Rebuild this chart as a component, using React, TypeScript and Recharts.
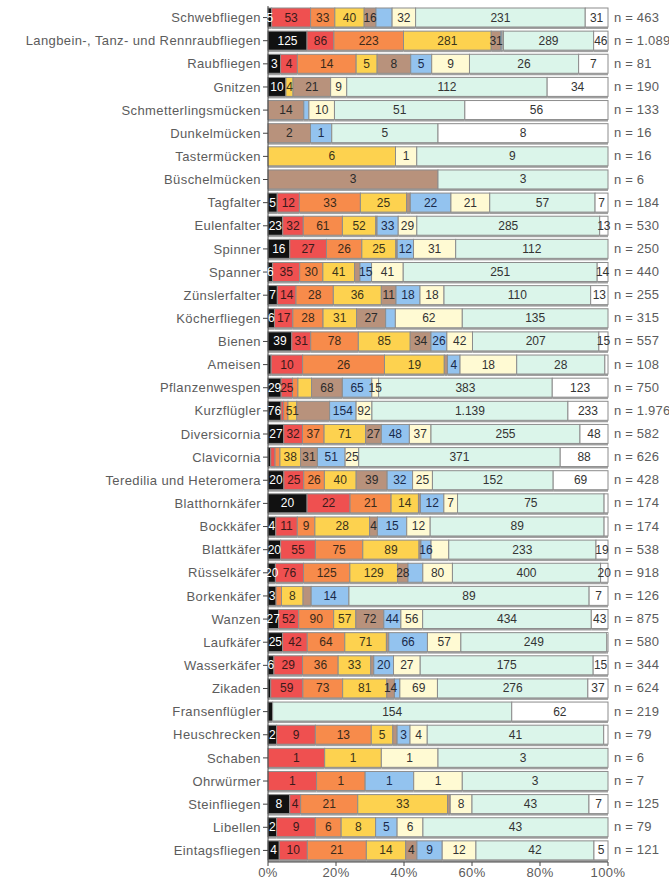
import React from "react";
import { BarChart, Bar, XAxis, YAxis, LabelList } from "recharts";

const categories = [
  "Schwebfliegen", "Langbein-, Tanz- und Rennraubfliegen", "Raubfliegen", "Gnitzen",
  "Schmetterlingsmücken", "Dunkelmücken", "Tastermücken", "Büschelmücken", "Tagfalter",
  "Eulenfalter", "Spinner", "Spanner", "Zünslerfalter", "Köcherfliegen", "Bienen", "Ameisen",
  "Pflanzenwespen", "Kurzflügler", "Diversicornia", "Clavicornia", "Teredilia und Heteromera",
  "Blatthornkäfer", "Bockkäfer", "Blattkäfer", "Rüsselkäfer", "Borkenkäfer", "Wanzen",
  "Laufkäfer", "Wasserkäfer", "Zikaden", "Fransenflügler", "Heuschrecken", "Schaben",
  "Ohrwürmer", "Steinfliegen", "Libellen", "Eintagsfliegen",
];

const totals = [463, 1089, 81, 190, 133, 16, 16, 6, 184, 530, 250, 440, 255, 315, 557, 108, 750, 1976, 582, 626, 428, 174, 174, 538, 918, 126, 875, 580, 344, 624, 219, 79, 6, 7, 125, 79, 121];

// one array per stack segment, in stacking order (left to right)
const black = [5, 125, 3, 10, 0, 0, 0, 0, 5, 23, 16, 6, 7, 6, 39, 1, 29, 76, 27, 5, 20, 20, 4, 20, 20, 3, 27, 25, 6, 5, 3, 2, 0, 0, 8, 2, 4];
const red = [53, 86, 4, 0, 0, 0, 0, 0, 12, 32, 27, 35, 14, 17, 31, 10, 25, 15, 32, 8, 25, 22, 11, 55, 76, 0, 52, 42, 29, 59, 0, 9, 1, 1, 4, 9, 10];
const orange = [33, 223, 14, 0, 0, 0, 0, 0, 33, 61, 26, 30, 28, 28, 78, 26, 12, 25, 37, 9, 26, 21, 9, 75, 125, 2, 90, 64, 36, 73, 0, 13, 0, 1, 21, 6, 21];
const yellow = [40, 281, 5, 4, 0, 0, 6, 0, 25, 52, 25, 41, 36, 31, 85, 19, 30, 51, 71, 38, 40, 14, 28, 89, 129, 8, 57, 71, 33, 81, 0, 5, 1, 0, 33, 8, 14];
const tan = [16, 31, 8, 21, 14, 2, 0, 3, 2, 2, 1, 7, 11, 27, 34, 1, 68, 191, 27, 31, 39, 1, 4, 3, 28, 3, 72, 4, 3, 14, 0, 1, 0, 0, 1, 0, 4];
const blue = [22, 4, 5, 0, 2, 1, 0, 0, 22, 33, 12, 15, 18, 9, 26, 4, 65, 154, 48, 51, 32, 12, 15, 16, 40, 14, 44, 66, 20, 10, 0, 3, 0, 1, 0, 5, 9];
const pale = [32, 4, 9, 9, 10, 0, 1, 0, 21, 29, 31, 41, 18, 62, 42, 18, 15, 92, 37, 25, 25, 7, 12, 28, 80, 0, 56, 57, 27, 69, 0, 4, 1, 1, 8, 6, 12];
const mint = [231, 289, 26, 112, 51, 5, 9, 3, 57, 285, 112, 251, 110, 135, 207, 28, 383, 1139, 255, 371, 152, 75, 89, 233, 400, 89, 434, 249, 175, 276, 154, 41, 3, 3, 43, 43, 42];
const white = [31, 46, 7, 34, 56, 8, 0, 0, 7, 13, 0, 14, 13, 0, 15, 1, 123, 233, 48, 88, 69, 2, 2, 19, 20, 7, 43, 2, 15, 37, 62, 1, 0, 0, 7, 0, 5];

// segments that carry no number on the chart
const unlabeled: [string, string][] = [
  ["Schwebfliegen", "blue"],
  ["Langbein-, Tanz- und Rennraubfliegen", "blue"], ["Langbein-, Tanz- und Rennraubfliegen", "pale"],
  ["Schmetterlingsmücken", "blue"], ["Tagfalter", "tan"], ["Eulenfalter", "tan"], ["Spinner", "tan"],
  ["Spanner", "tan"], ["Köcherfliegen", "blue"], ["Ameisen", "black"], ["Ameisen", "tan"],
  ["Ameisen", "white"], ["Pflanzenwespen", "orange"], ["Pflanzenwespen", "yellow"],
  ["Kurzflügler", "red"], ["Kurzflügler", "orange"], ["Kurzflügler", "tan"],
  ["Clavicornia", "black"], ["Clavicornia", "red"], ["Clavicornia", "orange"],
  ["Blatthornkäfer", "tan"], ["Blatthornkäfer", "white"], ["Bockkäfer", "white"],
  ["Blattkäfer", "tan"], ["Blattkäfer", "pale"], ["Rüsselkäfer", "blue"],
  ["Borkenkäfer", "orange"], ["Borkenkäfer", "tan"], ["Laufkäfer", "tan"], ["Laufkäfer", "white"],
  ["Wasserkäfer", "tan"], ["Zikaden", "black"], ["Zikaden", "blue"], ["Fransenflügler", "black"],
  ["Heuschrecken", "tan"], ["Heuschrecken", "white"], ["Steinfliegen", "tan"],
];

const series = [
  { key: "black", values: black, color: "#111111", text: "#ffffff" },
  { key: "red", values: red, color: "#ef5050", text: "#3a1a1a" },
  { key: "orange", values: orange, color: "#f78b4b", text: "#3a2a1a" },
  { key: "yellow", values: yellow, color: "#fdd24f", text: "#3a331a" },
  { key: "tan", values: tan, color: "#b8927c", text: "#2a2a2a" },
  { key: "blue", values: blue, color: "#93c3ef", text: "#1a2a4a" },
  { key: "pale", values: pale, color: "#fffad3", text: "#333333" },
  { key: "mint", values: mint, color: "#dbf5ea", text: "#333333" },
  { key: "white", values: white, color: "#ffffff", text: "#333333" },
];

const fmt = (v: number) => String(v).replace(/\B(?=(\d{3})+(?!\d))/g, ".");

const data = categories.map((name, i) => {
  const row: Record<string, any> = { name, n: totals[i] };
  series.forEach((s) => (row[s.key] = s.values[i]));
  return row;
});

const Segment = (props: any) => {
  const { x, y, width, height, fill } = props;
  if (!width || width <= 0) return null;
  return (
    <g>
      <rect x={x} y={y + height} width={width} height={2} fill="#a0a0a0" />
      <rect x={x} y={y} width={width} height={height} fill={fill} stroke="#8c8c8c" strokeWidth={1} />
    </g>
  );
};

const makeLabel = (key: string, color: string) => (props: any) => {
  const { value, index } = props;
  const vb = props.viewBox || {};
  const x = props.x ?? vb.x;
  const y = props.y ?? vb.y;
  const width = props.width ?? vb.width;
  const height = props.height ?? vb.height;
  if (!value) return null;
  const name = categories[index];
  if (unlabeled.some(([c, k]) => c === name && k === key)) return null;
  return (
    <text
      x={x + width / 2}
      y={y + height / 2 + 4}
      textAnchor="middle"
      fontSize={12}
      fill={color}
    >
      {fmt(value)}
    </text>
  );
};

const NTick = (props: any) => {
  const { x, y, index } = props;
  return (
    <text x={x + 4} y={y + 4} fontSize={13} fill="#5c5c5c" textAnchor="start" letterSpacing={0.2}>
      {`n = ${fmt(totals[index])}`}
    </text>
  );
};

const tickStyle = { fontSize: 13, fill: "#5c5c5c", letterSpacing: 0.4 };

export default function App() {
  return (
    <div style={{ position: "absolute", left: 0, top: 0, background: "#fff" }}>
      <BarChart
        width={669}
        height={880}
        data={data}
        layout="vertical"
        stackOffset="expand"
        barSize={19}
        margin={{ top: 6, right: 0, left: 0, bottom: 0 }}
        style={{ fontFamily: "'Liberation Sans', Arial, sans-serif" }}
      >
        <XAxis
          type="number"
          domain={[0, 1]}
          ticks={[0, 0.2, 0.4, 0.6, 0.8, 1]}
          tickFormatter={(v) => `${Math.round(v * 100)}%`}
          height={18}
          tick={tickStyle}
          stroke="#444"
          tickSize={4}
        />
        <YAxis
          type="category"
          dataKey="name"
          width={268}
          interval={0}
          tick={tickStyle}
          stroke="#444"
          tickSize={5}
        />
        <YAxis
          yAxisId="n"
          orientation="right"
          type="category"
          dataKey="name"
          width={61}
          interval={0}
          axisLine={false}
          tickLine={false}
          tickSize={0}
          tick={<NTick />}
        />
        {series.map((s) => (
          <Bar
            key={s.key}
            dataKey={s.key}
            stackId="a"
            fill={s.color}
            shape={<Segment />}
            isAnimationActive={false}
          >
            <LabelList dataKey={s.key} content={makeLabel(s.key, s.text)} />
          </Bar>
        ))}
      </BarChart>
    </div>
  );
}
